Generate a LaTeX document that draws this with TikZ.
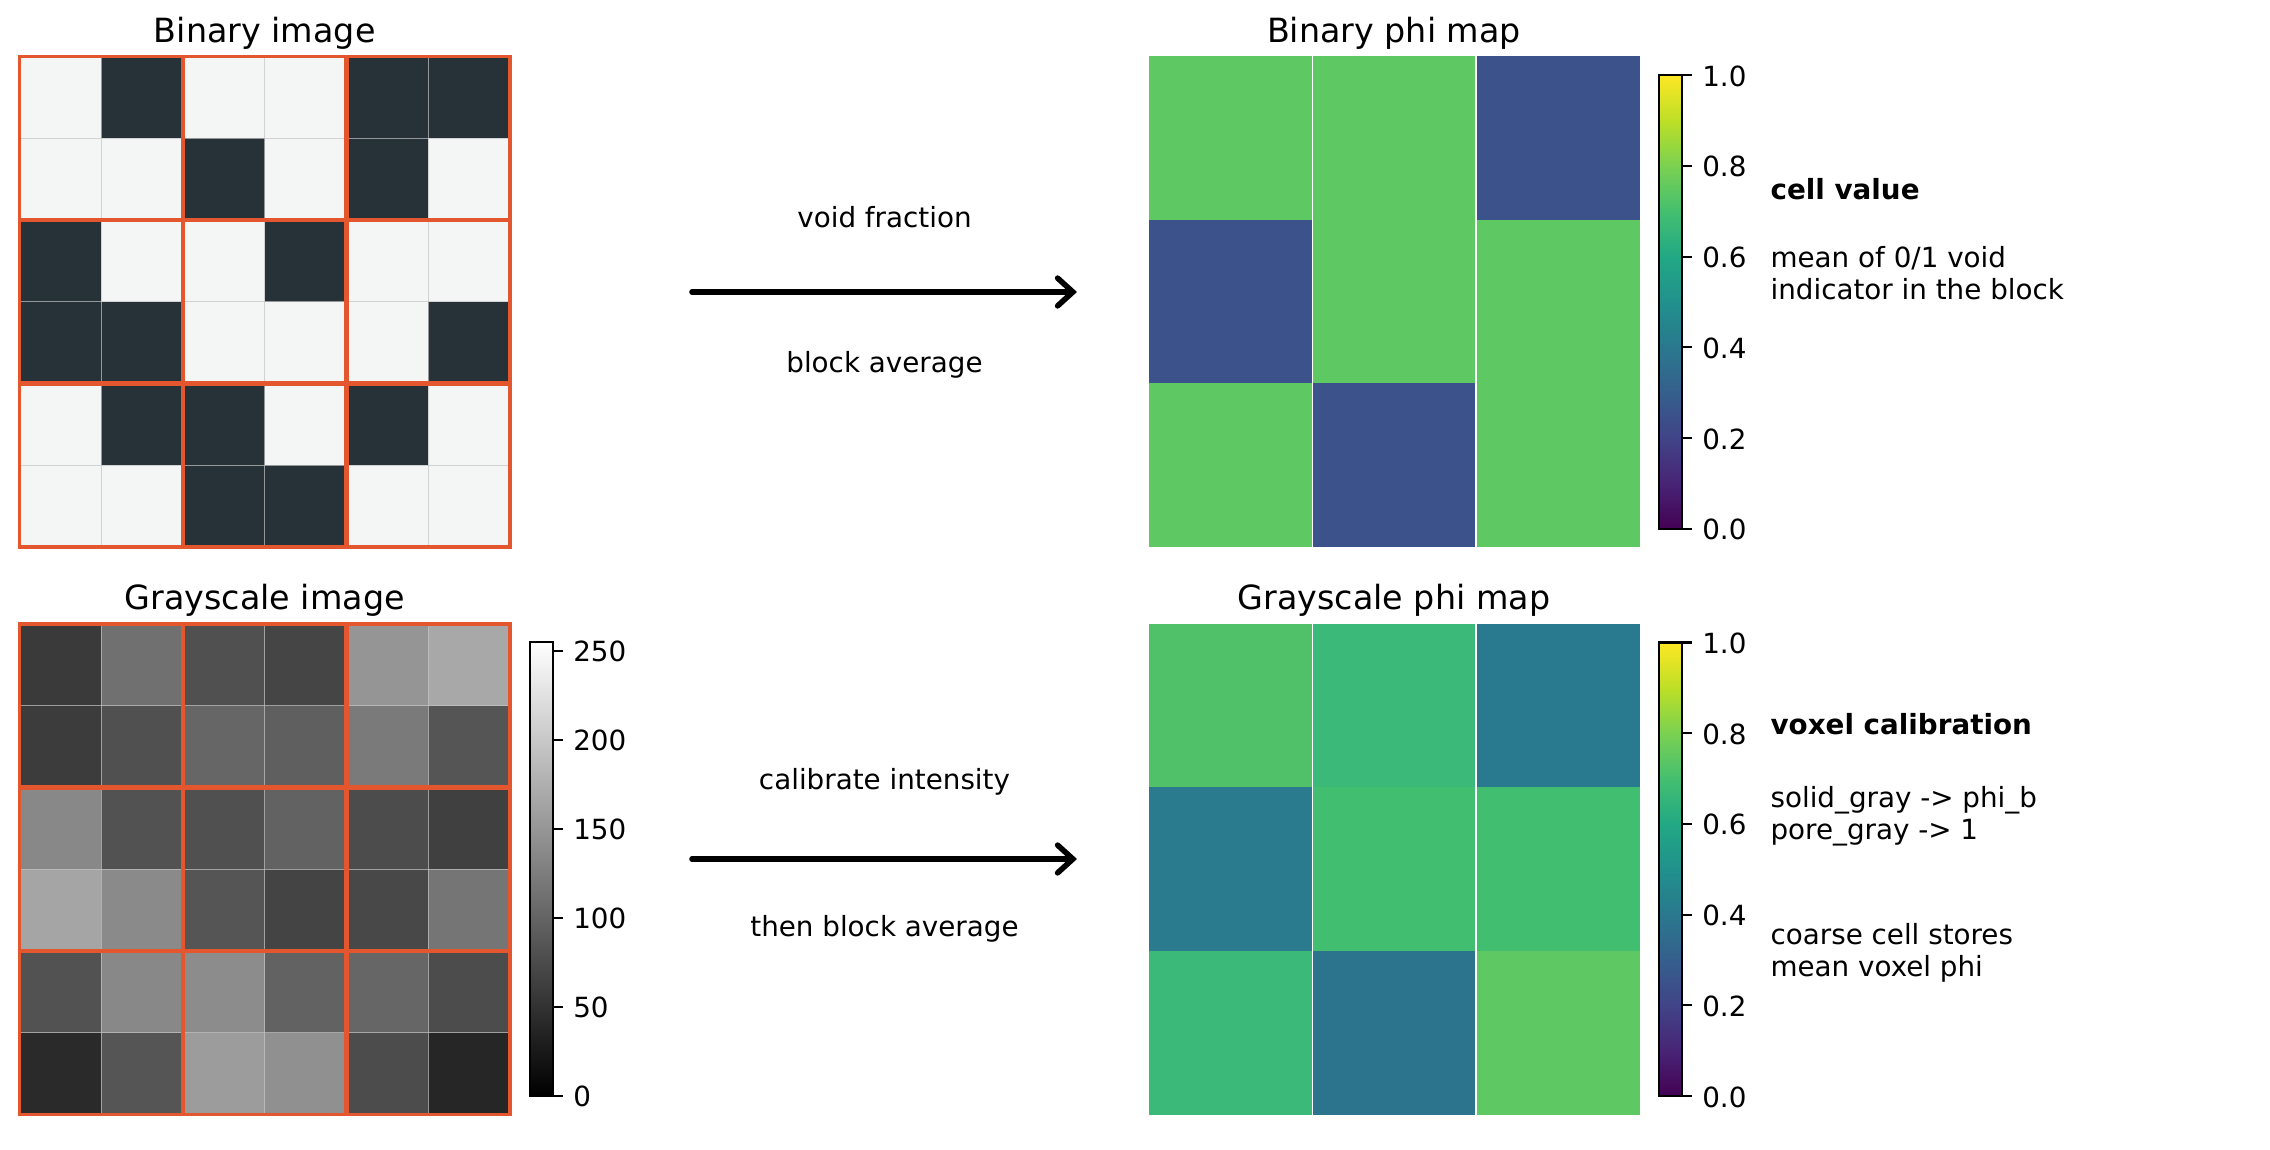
\documentclass[tikz,border=0pt]{standalone}
\usepackage{fontspec}
\setmainfont{DejaVu Sans}
\usetikzlibrary{arrows.meta}
\definecolor{blockor}{RGB}{228,87,46}
\definecolor{darkcell}{RGB}{38,50,56}
\definecolor{lightcell}{RGB}{244,246,245}
\definecolor{linegray}{RGB}{196,196,196}
\definecolor{vgreen}{RGB}{94,201,98}
\definecolor{vblue}{RGB}{59,82,139}
\definecolor{pa}{RGB}{80,193,105}
\definecolor{pb}{RGB}{58,185,120}
\definecolor{pc}{RGB}{41,122,142}
\definecolor{pd}{RGB}{42,123,142}
\definecolor{pe}{RGB}{66,190,113}
\definecolor{pf}{RGB}{44,116,142}
\definecolor{v0}{HTML}{440154}
\definecolor{v1}{HTML}{482475}
\definecolor{v2}{HTML}{414487}
\definecolor{v3}{HTML}{355F8D}
\definecolor{v4}{HTML}{2A788E}
\definecolor{v5}{HTML}{21918C}
\definecolor{v6}{HTML}{22A884}
\definecolor{v7}{HTML}{44BF70}
\definecolor{v8}{HTML}{7AD151}
\definecolor{v9}{HTML}{BDDF26}
\definecolor{v10}{HTML}{FDE725}
\tikzset{
  ttl/.style={font=\fontsize{12}{14}\selectfont, inner sep=0pt, anchor=base},
  lbl/.style={font=\fontsize{10}{12}\selectfont, inner sep=0pt},
  ticklbl/.style={font=\fontsize{10}{12}\selectfont, inner sep=0pt, anchor=base west},
  cellline/.style={draw=linegray, draw opacity=0.7, line width=0.4pt},
  blockline/.style={draw=blockor, line width=1.6pt},
  sepline/.style={draw=white, line width=0.7pt},
  cbframe/.style={draw=black, line width=0.8pt},
  tickmark/.style={draw=black, line width=0.8pt},
  flow/.style={draw=black, line width=2pt, line cap=round, -{Straight Barb[length=5.5pt, width=10pt, line cap=round]}}
}
\begin{document}
\begin{tikzpicture}[x=0.36pt,y=-0.36pt]
\useasboundingbox (0,0) rectangle (2270,1150);

% ---------- Binary image ----------
\node[ttl] (tbin) at (264.75,42.5) {Binary image};
\fill[lightcell] (19.5,56.5) rectangle (510,547);
\foreach \r/\c in {0/1,0/4,0/5,1/2,1/4,2/0,2/3,3/0,3/1,3/5,4/1,4/2,4/4,5/2,5/3}
  \fill[darkcell] ({19.5+\c*81.75},{56.5+\r*81.75}) rectangle ++(81.75,81.75);
\foreach \k in {1,...,5} {
  \draw[cellline] ({19.5+\k*81.75},56.5) -- ++(0,490.5);
  \draw[cellline] (19.5,{56.5+\k*81.75}) -- ++(490.5,0);
}
\foreach \k in {1,2} {
  \draw[blockline] ({19.5+\k*163.5},56.5) -- ++(0,490.5);
  \draw[blockline] (19.5,{56.5+\k*163.5}) -- ++(490.5,0);
}
\draw[blockline, line width=1.3pt] (19.5,56.5) rectangle (510,547);

% ---------- Grayscale image ----------
\node[ttl] (tgray) at (264.75,610) {Grayscale image};
\foreach \r/\vals in {0/{58,112,80,69,149,168},1/{60,80,102,95,122,85},2/{136,82,80,98,76,64},3/{165,138,85,68,72,117},4/{82,136,140,98,102,76},5/{42,85,156,144,76,38}} {
  \foreach \v [count=\ci from 0] in \vals {
    \pgfmathsetmacro\p{\v/2.55}
    \fill[white!\p!black] ({19.5+\ci*81.75},{624+\r*81.75}) rectangle ++(81.75,81.75);
  }
}
\foreach \k in {1,...,5} {
  \draw[cellline] ({19.5+\k*81.75},624) -- ++(0,490.5);
  \draw[cellline] (19.5,{624+\k*81.75}) -- ++(490.5,0);
}
\foreach \k in {1,2} {
  \draw[blockline] ({19.5+\k*163.5},624) -- ++(0,490.5);
  \draw[blockline] (19.5,{624+\k*163.5}) -- ++(490.5,0);
}
\draw[blockline, line width=1.3pt] (19.5,624) rectangle (510,1114.5);

% gray colorbar
\shade[bottom color=black, top color=white] (530.3,1095.7) rectangle (553.3,641.8);
\draw[cbframe] (530.3,1095.7) rectangle (553.3,641.8);
\foreach \v in {0,50,100,150,200,250} {
  \pgfmathsetmacro\yy{1095.7-\v*1.78}
  \draw[tickmark] (553.3,\yy) -- ++(9.7,0);
  \node[ticklbl] at (572.7,{\yy+11}) {\v};
}

% ---------- Arrows ----------
\node[lbl] (l1) at (884.5,217) {void fraction};
\node[lbl] (l2) at (884.5,365) {block average};
\coordinate (a1s) at (692,292);
\coordinate (a1e) at (1077,292);
\draw[flow] (a1s) -- (a1e);
\node[lbl] (l3) at (884.5,782) {calibrate intensity};
\node[lbl] (l4) at (884.5,929) {then block average};
\coordinate (a2s) at (692,859);
\coordinate (a2e) at (1077,859);
\draw[flow] (a2s) -- (a2e);

% ---------- Binary phi map ----------
\node[ttl] (tbphi) at (1394,42.5) {Binary phi map};
\foreach \r/\c/\col in {0/0/vgreen,0/1/vgreen,0/2/vblue,1/0/vblue,1/1/vgreen,1/2/vgreen,2/0/vgreen,2/1/vblue,2/2/vgreen}
  \fill[\col] ({1149+\c*163.5},{56.5+\r*163.5}) rectangle ++(163.5,163.5);
\foreach \k in {1,2}
  \draw[sepline] ({1149+\k*163.5},56.5) -- ++(0,490.5);

% viridis colorbar top
\foreach \k [evaluate=\k as \kn using int(\k+1)] in {0,...,9}
  \shade[bottom color=v\k, top color=v\kn] (1659.3,{528.7-\k*45.34+0.3}) rectangle (1682.3,{528.7-(\k+1)*45.34});
\draw[cbframe] (1659.3,528.7) rectangle (1682.3,75.3);
\foreach \v/\lab in {0/0.0,0.2/0.2,0.4/0.4,0.6/0.6,0.8/0.8,1/1.0} {
  \pgfmathsetmacro\yy{528.7-\v*453.4}
  \draw[tickmark] (1682.3,\yy) -- ++(9.7,0);
  \node[ticklbl] at (1701.7,{\yy+11}) {\lab};
}
\node[lbl, anchor=base west, font=\fontsize{10}{12}\selectfont\bfseries] (h1) at (1770,200) {cell value};
\node[lbl, anchor=base west] (d1) at (1770,268) {mean of 0/1 void};
\node[lbl, anchor=base west] (d2) at (1770,299.5) {indicator in the block};

% ---------- Grayscale phi map ----------
\node[ttl] (tgphi) at (1394,610) {Grayscale phi map};
\foreach \r/\c/\col in {0/0/pa,0/1/pb,0/2/pc,1/0/pd,1/1/pe,1/2/pe,2/0/pb,2/1/pf,2/2/vgreen}
  \fill[\col] ({1149+\c*163.5},{624+\r*163.5}) rectangle ++(163.5,163.5);
\foreach \k in {1,2}
  \draw[sepline] ({1149+\k*163.5},624) -- ++(0,490.5);

% viridis colorbar bottom
\foreach \k [evaluate=\k as \kn using int(\k+1)] in {0,...,9}
  \shade[bottom color=v\k, top color=v\kn] (1659.3,{1096-\k*45.34+0.3}) rectangle (1682.3,{1096-(\k+1)*45.34});
\draw[cbframe] (1659.3,1096) rectangle (1682.3,642.6);
\foreach \v/\lab in {0/0.0,0.2/0.2,0.4/0.4,0.6/0.6,0.8/0.8,1/1.0} {
  \pgfmathsetmacro\yy{1096-\v*453.4}
  \draw[tickmark] (1682.3,\yy) -- ++(9.7,0);
  \node[ticklbl] at (1701.7,{\yy+11}) {\lab};
}
\node[lbl, anchor=base west, font=\fontsize{10}{12}\selectfont\bfseries] (h2) at (1770,735) {voxel calibration};
\node[lbl, anchor=base west] (d3) at (1770,808) {solid\_gray -> phi\_b};
\node[lbl, anchor=base west] (d4) at (1770,840) {pore\_gray -> 1};
\node[lbl, anchor=base west] (d5) at (1770,945) {coarse cell stores};
\node[lbl, anchor=base west] (d6) at (1770,977) {mean voxel phi};
\end{tikzpicture}
\end{document}
